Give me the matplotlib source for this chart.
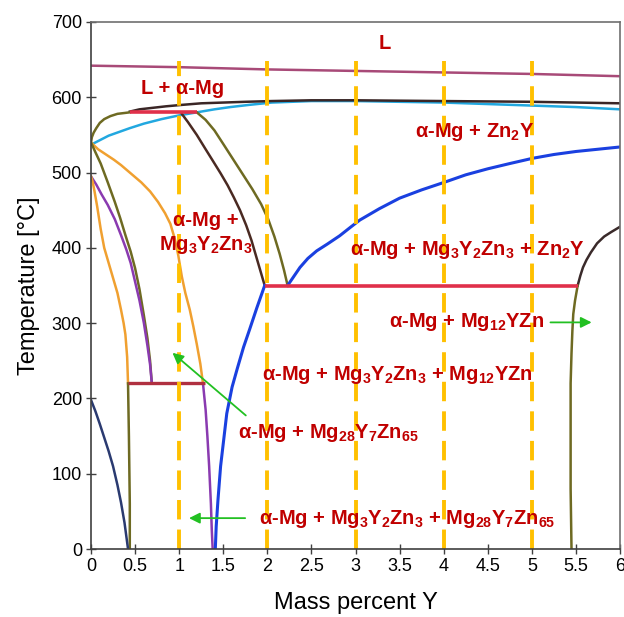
import numpy as np
import matplotlib.pyplot as plt

plt.rcParams['font.family'] = ['Liberation Sans', 'DejaVu Sans']
plt.rcParams['mathtext.fontset'] = 'custom'
plt.rcParams['mathtext.rm'] = 'Liberation Sans:bold'
plt.rcParams['mathtext.it'] = 'Liberation Sans:bold'
plt.rcParams['mathtext.bf'] = 'Liberation Sans:bold'

# Phase boundaries (mass percent Y, temperature in C)
liq_x = [0, 1, 2, 3, 4, 5, 6]
liq_t = [642, 640, 637, 635, 633, 631, 628]

top_x = [0.44, 0.55, 0.7, 0.85, 1.04, 1.25, 1.5, 1.75, 2.05, 2.5, 3, 4, 5, 6]
top_t = [581, 584, 586, 588, 590, 592, 593, 594, 595, 596, 596, 595, 594, 592]

cyan_x = [0, 0.1, 0.2, 0.32, 0.44, 0.6, 0.8, 1.0, 1.2, 1.4, 1.58, 1.8, 2.05,
          2.5, 3, 3.5, 4, 4.5, 5, 5.5, 6]
cyan_t = [537, 543, 549, 554, 559, 565, 571, 576, 580, 584, 587, 590, 593,
          595, 595, 594, 593, 591, 589, 587, 584]

olive_up_x = [0, 0.01, 0.03, 0.06, 0.1, 0.15, 0.22, 0.3, 0.44]
olive_up_t = [540, 547, 553, 559, 566, 571, 575, 578, 580]

olive_r_x = [1.2, 1.3, 1.4, 1.5, 1.61, 1.72, 1.83, 1.93, 2.01, 2.08, 2.14,
             2.19, 2.23]
olive_r_t = [580, 570, 556, 538, 518, 498, 478, 458, 438, 415, 392, 370, 350]

brown_x = [1.03, 1.1, 1.2, 1.3, 1.38, 1.47, 1.55, 1.62, 1.69, 1.76, 1.82,
           1.87, 1.92, 1.97]
brown_t = [578, 567, 550, 531, 516, 499, 483, 467, 450, 430, 410, 390, 370, 350]

orange1_x = [0, 0.08, 0.17, 0.26, 0.34, 0.45, 0.57, 0.67, 0.76, 0.84, 0.9,
             0.95, 0.99, 1.03, 1.07, 1.12, 1.16, 1.2, 1.24, 1.27]
orange1_t = [540, 531, 524, 517, 510, 499, 487, 475, 461, 446, 432, 412, 390,
             362, 340, 318, 296, 272, 246, 220]

purple_low_x = [1.27, 1.3, 1.32, 1.34, 1.36, 1.37, 1.38]
purple_low_t = [220, 185, 150, 110, 60, 25, 0]

olive_l_x = [0, 0.05, 0.11, 0.19, 0.27, 0.33, 0.39, 0.45, 0.5, 0.55, 0.6,
             0.64, 0.67, 0.69]
olive_l_t = [540, 527, 512, 487, 461, 440, 417, 395, 373, 345, 310, 280, 250,
             220]

purple_x = [0, 0.06, 0.12, 0.19, 0.27, 0.34, 0.4, 0.45, 0.5, 0.55, 0.6, 0.64,
            0.67, 0.69]
purple_t = [495, 484, 471, 457, 438, 417, 398, 380, 355, 330, 300, 270, 245,
            220]

orange2_x = [0, 0.02, 0.04, 0.07, 0.11, 0.15, 0.2, 0.25, 0.3, 0.34, 0.37, 0.39,
             0.41, 0.42]
orange2_t = [495, 487, 475, 455, 425, 400, 380, 360, 340, 318, 300, 285, 255,
             220]

olive_v_x = [0.42, 0.43, 0.44, 0.44]
olive_v_t = [220, 150, 60, 0]

navy_x = [0, 0.05, 0.1, 0.15, 0.2, 0.25, 0.3, 0.34, 0.38, 0.42]
navy_t = [198, 183, 166, 148, 130, 110, 85, 62, 35, 0]

blue_low_x = [1.41, 1.42, 1.44, 1.47, 1.5, 1.54, 1.6, 1.66, 1.73, 1.8, 1.88,
              1.97]
blue_low_t = [0, 30, 65, 110, 140, 180, 215, 240, 268, 292, 320, 350]

blue_up_x = [2.23, 2.3, 2.37, 2.46, 2.56, 2.68, 2.82, 2.95, 3.05, 3.27, 3.5,
             3.75, 4.03, 4.25, 4.5, 4.75, 5.01, 5.25, 5.5, 5.75, 6.0]
blue_up_t = [350, 362, 374, 386, 396, 405, 416, 428, 437, 452, 466, 477, 488,
             497, 505, 512, 519, 524, 528, 531, 534]

right_up_x = [5.52, 5.55, 5.58, 5.62, 5.67, 5.74, 5.82, 5.9, 6.0]
right_up_t = [350, 363, 374, 384, 394, 406, 415, 421, 428]

right_v_x = [5.52, 5.49, 5.47, 5.46, 5.45, 5.44, 5.44, 5.44, 5.45]
right_v_t = [350, 330, 312, 290, 260, 220, 150, 80, 0]

# Isotherms (x start, x end, temperature)
iso_580 = (0.44, 1.2, 580)
iso_350 = (1.97, 5.52, 350)
iso_220 = (0.42, 1.29, 220)

# Dashed sections
sections = [1, 2, 3, 4, 5]
section_top = 648

x_ticks = np.arange(0, 6.01, 0.5)
x_labels = ['0', '0.5', '1', '1.5', '2', '2.5', '3', '3.5', '4', '4.5', '5', '5.5', '6']
y_ticks = np.arange(0, 701, 100)

fig = plt.figure(figsize=(6.24, 6.17), dpi=100)
ax = fig.add_axes([91/624, 68/617, 529/624, 527/617])

lw = 1.8
ax.plot(liq_x, liq_t, color='#a84a78', lw=lw)
ax.plot(cyan_x, cyan_t, color='#22a8e0', lw=lw)
ax.plot(top_x, top_t, color='#3a2626', lw=lw)
ax.plot(olive_up_x, olive_up_t, color='#6e6a22', lw=lw)
ax.plot(olive_r_x, olive_r_t, color='#6e6a22', lw=lw)
ax.plot(brown_x, brown_t, color='#4a2a22', lw=lw)
ax.plot(orange1_x, orange1_t, color='#f0a030', lw=lw)
ax.plot(purple_low_x, purple_low_t, color='#8a3ab0', lw=lw)
ax.plot(olive_l_x, olive_l_t, color='#6e6a22', lw=lw)
ax.plot(purple_x, purple_t, color='#8a3ab0', lw=lw)
ax.plot(orange2_x, orange2_t, color='#f0a030', lw=lw)
ax.plot(olive_v_x, olive_v_t, color='#6e6a22', lw=lw)
ax.plot(navy_x, navy_t, color='#2a3a70', lw=lw)
ax.plot(blue_low_x, blue_low_t, color='#1a40e0', lw=2.2)
ax.plot(blue_up_x, blue_up_t, color='#1a40e0', lw=2.2)
ax.plot(right_up_x, right_up_t, color='#3a2a2a', lw=lw)
ax.plot(right_v_x, right_v_t, color='#6e6a22', lw=lw)

for x0, x1, t in (iso_580, iso_350):
    ax.plot([x0, x1], [t, t], color='#e0304a', lw=2.6, solid_capstyle='butt')
ax.plot([iso_220[0], iso_220[1]], [iso_220[2]] * 2, color='#b03040', lw=2.4,
        solid_capstyle='butt')

for xs in sections:
    ax.plot([xs, xs], [0, section_top], color='#ffc000', lw=2.8,
            dashes=(5, 2.6))

red = '#c00000'
kw = dict(color=red, fontsize=14.5, fontweight='bold', ha='center', va='center')
ax.text(3.33, 672, 'L', **kw)
ax.text(1.04, 612, 'L + α-Mg', **kw)
ax.text(4.35, 554, 'α-Mg + Zn$_2$Y', **kw)
ax.text(1.3, 436, 'α-Mg +', **kw)
ax.text(1.3, 404, 'Mg$_3$Y$_2$Zn$_3$', **kw)
ax.text(4.27, 397, 'α-Mg + Mg$_3$Y$_2$Zn$_3$ + Zn$_2$Y', **kw)
ax.text(4.26, 301, 'α-Mg + Mg$_{12}$YZn', **kw)
ax.text(3.48, 231, 'α-Mg + Mg$_3$Y$_2$Zn$_3$ + Mg$_{12}$YZn', **kw)
ax.text(2.69, 154, 'α-Mg + Mg$_{28}$Y$_7$Zn$_{65}$', **kw)
ax.text(3.59, 40, 'α-Mg + Mg$_3$Y$_2$Zn$_3$ + Mg$_{28}$Y$_7$Zn$_{65}$', **kw)

green = dict(arrowstyle='-|>', color='#22c022', lw=1.3, mutation_scale=16)
ax.annotate('', xy=(5.71, 301), xytext=(5.18, 301), arrowprops=green)
ax.annotate('', xy=(0.9, 263), xytext=(1.78, 175), arrowprops=green)
ax.annotate('', xy=(1.08, 41), xytext=(1.78, 41), arrowprops=green)

ax.set_xlim(0, 6)
ax.set_ylim(0, 700)
ax.set_xticks(x_ticks)
ax.set_xticklabels(x_labels)
ax.set_yticks(y_ticks)
ax.tick_params(direction='inout', length=7, width=1, color='#404040',
               labelsize=13, pad=3)
ax.set_xlabel('Mass percent Y', fontsize=17, labelpad=12)
ax.set_ylabel('Temperature [°C]', fontsize=17, labelpad=8)

for side in ('left', 'bottom'):
    ax.spines[side].set_color('#404040')
    ax.spines[side].set_linewidth(1.2)
for side in ('right', 'top'):
    ax.spines[side].set_color('#707070')
    ax.spines[side].set_linewidth(1.2)

fig.savefig('out.png', dpi=100)
